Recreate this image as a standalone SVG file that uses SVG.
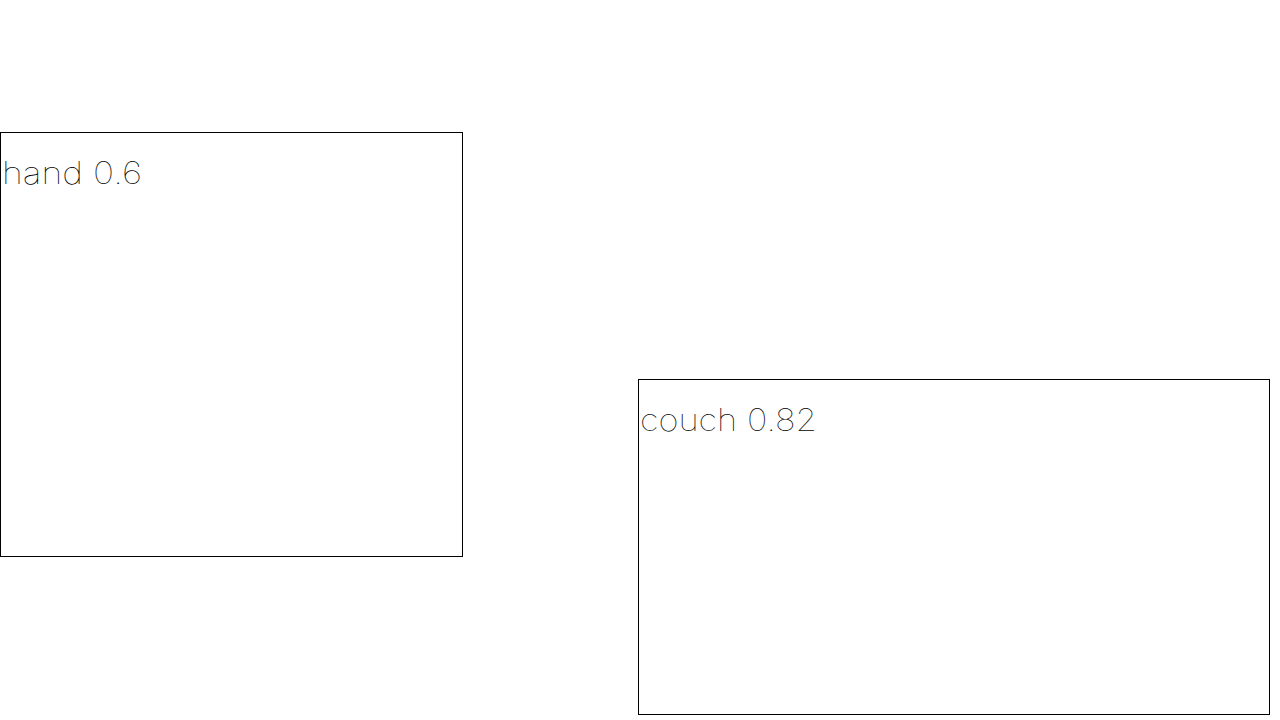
<svg xmlns="http://www.w3.org/2000/svg" width="1280" height="720" viewBox="0 0 1280 720">
<style>
.box{fill:none;stroke:#000;stroke-width:1}
.lbl{font-family:"Inter","DejaVu Sans",sans-serif;font-weight:100;font-size:31px;fill:#000}
</style>
<rect width="1280" height="720" fill="#fff"/>
<g id="hand">
<rect class="box" x="0.5" y="132.5" width="462" height="424"/>
<text class="lbl" x="2" y="184" textLength="140" lengthAdjust="spacingAndGlyphs">hand 0.6</text>
</g>
<g id="couch">
<rect class="box" x="638.5" y="379.5" width="631" height="335"/>
<text class="lbl" x="640" y="431" textLength="177" lengthAdjust="spacingAndGlyphs">couch 0.82</text>
</g>
<g id="connectors"></g>
</svg>
